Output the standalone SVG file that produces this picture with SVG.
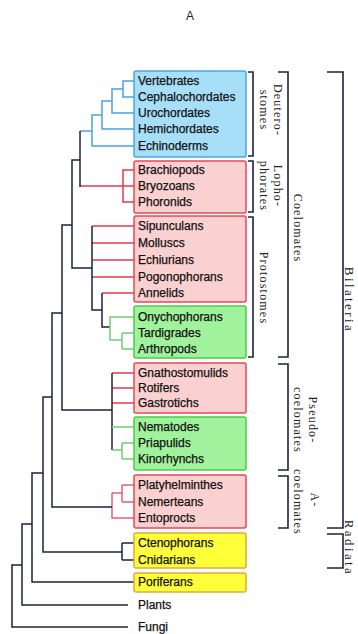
<svg xmlns="http://www.w3.org/2000/svg" width="358" height="634" viewBox="0 0 358 634">
<style>
.bg{fill:#ffffff}
.tx{font-family:"Liberation Sans",Arial,sans-serif;font-size:12px;fill:#111;stroke:#111;stroke-width:0.25}
.lb{font-family:"Liberation Serif","Times New Roman",serif;font-size:12px;fill:#222;letter-spacing:1.2px;text-anchor:middle}
.big{font-size:13px;letter-spacing:2.4px}
.box{stroke-width:1.5}
.blueb{fill:#a8dff8;stroke:#4aa6e6}
.redb{fill:#fbd0d0;stroke:#e6485a}
.greenb{fill:#a0f29c;stroke:#4ccc4c}
.yelb{fill:#ffff3a;stroke:#e6a838}
.ln{fill:none;stroke-width:1.5}
.k{stroke:#1e2040}
.b{stroke:#4aa3e0}
.r{stroke:#e83848}
.g{stroke:#6fd06f}
.p{stroke:#e4607a}
.br{fill:none;stroke:#1e2040;stroke-width:1.6}
</style>
<rect class="bg" x="0" y="0" width="358" height="634"/>
<text x="190" y="20" style="font-family:'Liberation Sans',Arial,sans-serif;font-size:12px;fill:#222;text-anchor:middle">A</text>

<g id="connectors">
  <!-- deuterostomes (blue) -->
  <path class="ln b" d="M134,81 H123 V97 H134"/>
  <path class="ln b" d="M123,89 H112 V113 H134"/>
  <path class="ln b" d="M112,101 H102 V129 H134"/>
  <path class="ln b" d="M102,115 H92 V146 H134"/>
  <path class="ln b" d="M92,131 H80"/>
  <!-- lophophorates (red) -->
  <path class="ln r" d="M134,170 H123 V202 H134"/>
  <path class="ln r" d="M80,186 H134"/>
  <!-- protostomes -->
  <path class="ln r" d="M92,226 H134 M92,243 H134 M92,260 H134 M92,277 H134 M102,293 H134"/>
  <path class="ln k" d="M92,226 V310 H102 M102,293 V327 H110"/>
  <path class="ln g" d="M134,317 H110 V340 H122 M122,333 V349 M122,333 H134 M122,349 H134"/>
  <!-- pseudocoelomates -->
  <path class="ln r" d="M112,373 H134 M112,388 H134 M112,403 H134"/>
  <path class="ln k" d="M112,373 V450"/>
  <path class="ln g" d="M112,427 H134 M112,450 H122 M122,443 V459 M122,443 H134 M122,459 H134"/>
  <!-- acoelomates -->
  <path class="ln p" d="M112,493 V518 H134 M112,493 H122 M122,485 V502 M122,485 H134 M122,502 H134"/>
  <!-- radiata -->
  <path class="ln k" d="M122,543 V560 M122,543 H134 M122,560 H134"/>
  <!-- backbone (black) -->
  <path class="ln k" d="M80,131 V187"/>
  <path class="ln k" d="M80,160 H72 V268 H92"/>
  <path class="ln k" d="M72,225 H62 V410 H112"/>
  <path class="ln k" d="M62,313 H52 V507 H112"/>
  <path class="ln k" d="M52,397 H43 V552 H122"/>
  <path class="ln k" d="M43,473 H32 V582 H134"/>
  <path class="ln k" d="M32,524 H22 V605 H128"/>
  <path class="ln k" d="M22,565 H12 V627 H128"/>
</g>

<g id="box-deuterostomes"><rect class="box blueb" x="134" y="71" width="112" height="86" rx="2"/></g>
<g id="box-lophophorates"><rect class="box redb" x="134" y="161" width="112" height="52" rx="2"/></g>
<g id="box-protostomes-red"><rect class="box redb" x="134" y="216" width="112" height="86" rx="2"/></g>
<g id="box-protostomes-green"><rect class="box greenb" x="134" y="306" width="112" height="52" rx="2"/></g>
<g id="box-pseudo-red"><rect class="box redb" x="134" y="363" width="112" height="50" rx="2"/></g>
<g id="box-pseudo-green"><rect class="box greenb" x="134" y="417" width="112" height="53" rx="2"/></g>
<g id="box-acoelomates"><rect class="box redb" x="134" y="475" width="112" height="53" rx="2"/></g>
<g id="box-radiata"><rect class="box yelb" x="134" y="533" width="112" height="35" rx="2"/></g>
<g id="box-porifera"><rect class="box yelb" x="134" y="573" width="112" height="19" rx="2"/></g>

<g id="vertebrates"><text class="tx" x="138" y="85">Vertebrates</text></g>
<g id="cephalochordates"><text class="tx" x="138" y="101">Cephalochordates</text></g>
<g id="urochordates"><text class="tx" x="138" y="117">Urochordates</text></g>
<g id="hemichordates"><text class="tx" x="138" y="133">Hemichordates</text></g>
<g id="echinoderms"><text class="tx" x="138" y="150">Echinoderms</text></g>
<g id="brachiopods"><text class="tx" x="138" y="174">Brachiopods</text></g>
<g id="bryozoans"><text class="tx" x="138" y="190">Bryozoans</text></g>
<g id="phoronids"><text class="tx" x="138" y="206">Phoronids</text></g>
<g id="sipunculans"><text class="tx" x="138" y="230">Sipunculans</text></g>
<g id="molluscs"><text class="tx" x="138" y="247">Molluscs</text></g>
<g id="echiurians"><text class="tx" x="138" y="264">Echiurians</text></g>
<g id="pogonophorans"><text class="tx" x="138" y="281">Pogonophorans</text></g>
<g id="annelids"><text class="tx" x="138" y="297">Annelids</text></g>
<g id="onychophorans"><text class="tx" x="138" y="321">Onychophorans</text></g>
<g id="tardigrades"><text class="tx" x="138" y="337">Tardigrades</text></g>
<g id="arthropods"><text class="tx" x="138" y="353">Arthropods</text></g>
<g id="gnathostomulids"><text class="tx" x="138" y="377">Gnathostomulids</text></g>
<g id="rotifers"><text class="tx" x="138" y="392">Rotifers</text></g>
<g id="gastrotichs"><text class="tx" x="138" y="407">Gastrotichs</text></g>
<g id="nematodes"><text class="tx" x="138" y="431">Nematodes</text></g>
<g id="priapulids"><text class="tx" x="138" y="447">Priapulids</text></g>
<g id="kinorhynchs"><text class="tx" x="138" y="463">Kinorhynchs</text></g>
<g id="platyhelminthes"><text class="tx" x="138" y="489">Platyhelminthes</text></g>
<g id="nemerteans"><text class="tx" x="138" y="506">Nemerteans</text></g>
<g id="entoprocts"><text class="tx" x="138" y="522">Entoprocts</text></g>
<g id="ctenophorans"><text class="tx" x="138" y="547">Ctenophorans</text></g>
<g id="cnidarians"><text class="tx" x="138" y="564">Cnidarians</text></g>
<g id="poriferans"><text class="tx" x="138" y="586">Poriferans</text></g>
<g id="plants"><text class="tx" x="138" y="609">Plants</text></g>
<g id="fungi"><text class="tx" x="138" y="631">Fungi</text></g>

<g id="bracket-deuterostomes">
  <path class="br" d="M248,72 H253 V156 H248"/>
  <text class="lb" transform="rotate(90 274 110)" x="274" y="110">Deutero-</text>
  <text class="lb" transform="rotate(90 260 110)" x="260" y="110">stomes</text>
</g>
<g id="bracket-lophophorates">
  <path class="br" d="M248,161 H253 V212 H248"/>
  <text class="lb" transform="rotate(90 274 186)" x="274" y="186">Lopho-</text>
  <text class="lb" transform="rotate(90 260 186)" x="260" y="186">phorates</text>
</g>
<g id="bracket-protostomes">
  <path class="br" d="M248,217 H253 V357 H248"/>
  <text class="lb" transform="rotate(90 260 288)" x="260" y="288">Protostomes</text>
</g>
<g id="bracket-coelomates">
  <path class="br" d="M278,72 H288 V357 H278"/>
  <text class="lb" transform="rotate(90 294 228)" x="294" y="228">Coelomates</text>
</g>
<g id="bracket-pseudocoelomates">
  <path class="br" d="M278,364 H288 V470 H278"/>
  <text class="lb" transform="rotate(90 309 420)" x="309" y="420">Pseudo-</text>
  <text class="lb" transform="rotate(90 294 420)" x="294" y="420">coelomates</text>
</g>
<g id="bracket-acoelomates">
  <path class="br" d="M278,476 H288 V528 H278"/>
  <text class="lb" transform="rotate(90 311 500)" x="311" y="500">A-</text>
  <text class="lb" transform="rotate(90 294 502)" x="294" y="502">coelomates</text>
</g>
<g id="bracket-bilateria">
  <path class="br" d="M327,72 H343 V528 H327"/>
  <text class="lb big" transform="rotate(90 345 300)" x="345" y="300">Bilateria</text>
</g>
<g id="bracket-radiata">
  <path class="br" d="M327,534 H343 V568 H327"/>
  <text class="lb big" transform="rotate(90 345 548)" x="345" y="548">Radiata</text>
</g>
</svg>
